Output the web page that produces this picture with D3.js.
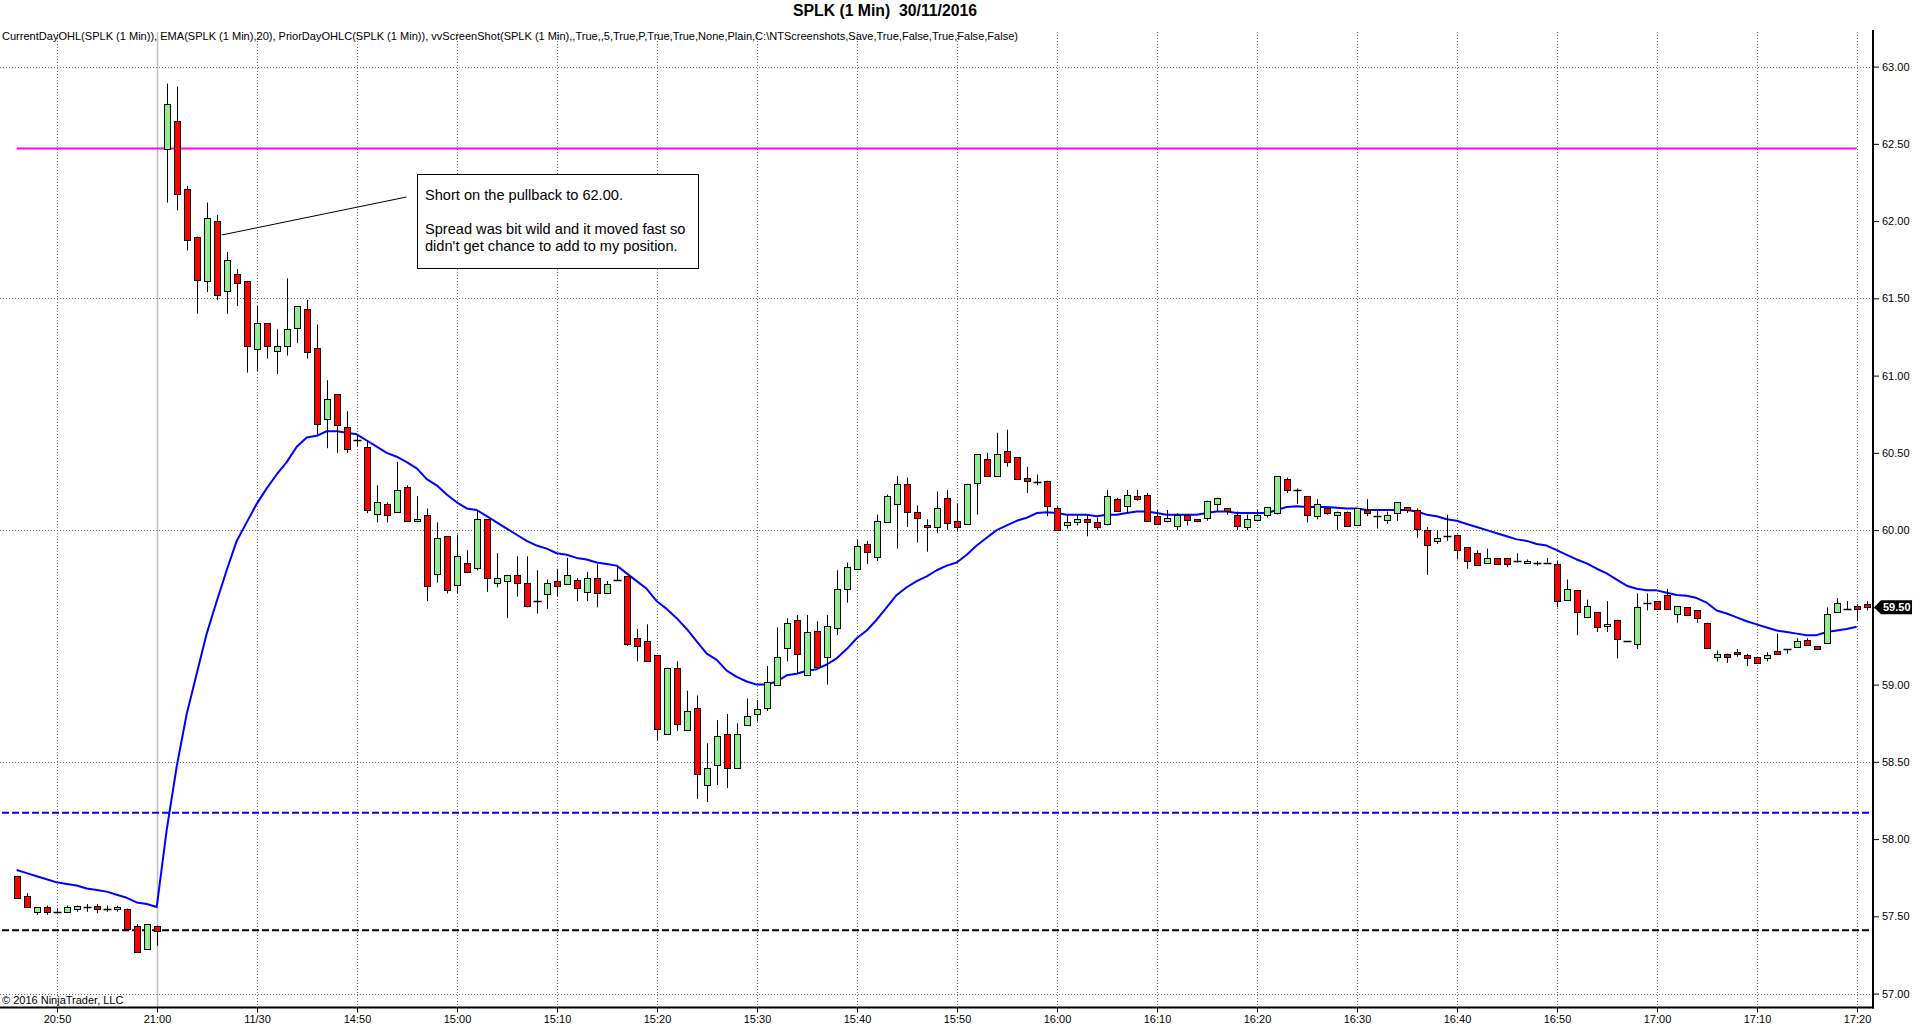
<!DOCTYPE html>
<html><head><meta charset="utf-8">
<script src="https://cdn.jsdelivr.net/npm/d3@7/dist/d3.min.js"></script>
<style>
html,body{margin:0;padding:0;background:#fff;}
svg{display:block;font-family:"Liberation Sans",Arial,sans-serif;}
</style></head>
<body>
<svg id="chart" width="1920" height="1034"></svg>
<script>
// ---------- DATA ----------
const times = ["20:46","20:47","20:48","20:49","20:50","20:51","20:52","20:53","20:54","20:55","20:56","20:57","20:58","20:59","21:00",
"14:31","14:32","14:33","14:34","14:35","14:36","14:37","14:38","14:39","14:40","14:41","14:42","14:43","14:44","14:45","14:46","14:47","14:48","14:49","14:50",
"14:51","14:52","14:53","14:54","14:55","14:56","14:57","14:58","14:59","15:00","15:01","15:02","15:03","15:04","15:05","15:06","15:07","15:08","15:09","15:10",
"15:11","15:12","15:13","15:14","15:15","15:16","15:17","15:18","15:19","15:20","15:21","15:22","15:23","15:24","15:25","15:26","15:27","15:28","15:29","15:30",
"15:31","15:32","15:33","15:34","15:35","15:36","15:37","15:38","15:39","15:40","15:41","15:42","15:43","15:44","15:45","15:46","15:47","15:48","15:49","15:50",
"15:51","15:52","15:53","15:54","15:55","15:56","15:57","15:58","15:59","16:00","16:01","16:02","16:03","16:04","16:05","16:06","16:07","16:08","16:09","16:10",
"16:11","16:12","16:13","16:14","16:15","16:16","16:17","16:18","16:19","16:20","16:21","16:22","16:23","16:24","16:25","16:26","16:27","16:28","16:29","16:30",
"16:31","16:32","16:33","16:34","16:35","16:36","16:37","16:38","16:39","16:40","16:41","16:42","16:43","16:44","16:45","16:46","16:47","16:48","16:49","16:50",
"16:51","16:52","16:53","16:54","16:55","16:56","16:57","16:58","16:59","17:00","17:01","17:02","17:03","17:04","17:05","17:06","17:07","17:08","17:09","17:10",
"17:11","17:12","17:13","17:14","17:15","17:16","17:17","17:18","17:19","17:20","17:21"];

const opens = [57.76,57.63,57.53,57.56,57.53,57.53,57.55,57.56,57.57,57.55,57.55,57.55,57.44,57.29,57.44,
62.47,62.65,62.21,61.90,61.61,62.00,61.55,61.66,61.61,61.17,61.34,61.16,61.19,61.31,61.43,61.18,60.72,60.88,60.67,60.58,
60.54,60.10,60.17,60.12,60.28,60.06,60.10,59.72,59.96,59.64,59.79,59.75,60.07,59.66,59.67,59.71,59.66,59.54,59.59,59.67,
59.65,59.68,59.60,59.69,59.59,59.68,59.70,59.30,59.28,59.19,58.68,59.11,58.71,58.85,58.35,58.48,58.68,58.46,58.74,58.81,
58.85,59.00,59.24,59.42,59.06,59.35,59.18,59.37,59.62,59.75,59.91,59.83,60.05,60.17,60.30,60.12,60.03,60.02,60.21,60.06,
60.04,60.30,60.46,60.35,60.51,60.47,60.34,60.31,60.32,60.14,60.03,60.05,60.07,60.05,60.04,60.20,60.16,60.22,60.23,60.09,
60.06,60.03,60.10,60.07,60.08,60.17,60.14,60.10,60.02,60.07,60.10,60.11,60.33,60.26,60.22,60.09,60.14,60.10,60.12,60.03,
60.13,60.09,60.07,60.11,60.15,60.13,60.00,59.93,59.96,59.97,59.89,59.85,59.79,59.82,59.82,59.80,59.79,59.79,59.79,59.78,
59.55,59.61,59.44,59.47,59.38,59.42,59.28,59.26,59.53,59.54,59.58,59.46,59.50,59.48,59.40,59.18,59.20,59.21,59.19,59.18,
59.17,59.22,59.23,59.24,59.29,59.25,59.27,59.47,59.49,59.51,59.52];

const highs = [57.76,57.65,57.56,57.57,57.55,57.57,57.57,57.58,57.58,57.57,57.57,57.55,57.45,57.45,57.44,
62.89,62.87,62.23,61.90,62.12,62.04,61.80,61.69,61.61,61.45,61.34,61.30,61.63,61.45,61.49,61.33,60.97,60.88,60.77,60.62,
60.58,60.29,60.18,60.44,60.29,60.22,60.14,60.05,59.96,59.97,59.87,60.13,60.07,59.85,59.71,59.83,59.83,59.74,59.68,59.75,
59.82,59.69,59.73,59.78,59.67,59.76,59.70,59.36,59.39,59.19,59.11,59.15,58.96,58.93,58.62,58.77,58.81,58.75,58.91,58.90,
59.12,59.37,59.43,59.45,59.45,59.41,59.45,59.74,59.79,59.94,59.93,60.10,60.23,60.35,60.34,60.16,60.07,60.25,60.26,60.17,
60.30,60.49,60.50,60.63,60.65,60.47,60.41,60.36,60.32,60.16,60.10,60.10,60.10,60.08,60.26,60.21,60.26,60.26,60.24,60.13,
60.13,60.11,60.10,60.07,60.19,60.21,60.14,60.12,60.10,60.13,60.15,60.35,60.34,60.27,60.22,60.20,60.14,60.12,60.12,60.14,
60.20,60.13,60.12,60.18,60.15,60.14,60.02,60.00,60.10,59.97,59.89,59.87,59.88,59.82,59.82,59.85,59.81,59.80,59.82,59.80,
59.68,59.61,59.55,59.47,59.54,59.42,59.28,59.59,59.59,59.54,59.62,59.51,59.50,59.48,59.40,59.22,59.20,59.23,59.20,59.18,
59.21,59.33,59.23,59.30,59.30,59.25,59.50,59.56,59.54,59.52,59.54];

const lows = [57.62,57.56,57.51,57.51,57.52,57.53,57.53,57.53,57.52,57.53,57.53,57.42,57.27,57.29,57.31,
62.12,62.07,61.81,61.40,61.54,61.49,61.40,61.45,61.02,61.03,61.11,61.01,61.13,61.21,61.11,60.62,60.53,60.50,60.50,60.54,
60.11,60.05,60.05,60.12,60.06,60.05,59.54,59.66,59.59,59.59,59.72,59.74,59.60,59.63,59.43,59.57,59.50,59.46,59.49,59.57,
59.65,59.54,59.54,59.50,59.59,59.67,59.25,59.15,59.15,58.64,58.68,58.70,58.71,58.26,58.24,58.35,58.33,58.46,58.74,58.76,
58.83,59.00,59.15,59.07,59.06,59.12,59.00,59.32,59.53,59.75,59.78,59.80,60.05,59.88,60.02,59.92,59.86,59.98,60.00,59.99,
60.04,60.10,60.35,60.35,60.41,60.33,60.24,60.29,60.09,60.00,60.01,60.03,59.96,60.00,60.03,60.12,60.11,60.19,60.06,60.04,
60.05,60.00,60.03,60.05,60.06,60.12,60.10,60.00,60.00,60.07,60.08,60.10,60.24,60.17,60.05,60.07,60.10,60.00,60.02,60.03,
60.09,60.01,60.04,60.06,60.11,59.95,59.71,59.91,59.93,59.81,59.75,59.77,59.78,59.78,59.76,59.79,59.78,59.77,59.79,59.50,
59.55,59.32,59.43,59.34,59.34,59.17,59.28,59.23,59.48,59.49,59.49,59.40,59.45,59.40,59.24,59.15,59.14,59.18,59.12,59.14,
59.15,59.20,59.20,59.24,59.26,59.23,59.27,59.47,59.49,59.41,59.48];

const closes = [57.62,57.56,57.56,57.53,57.53,57.56,57.57,57.56,57.55,57.55,57.56,57.42,57.27,57.45,57.41,
62.76,62.18,61.88,61.62,62.02,61.52,61.75,61.60,61.19,61.34,61.19,61.19,61.30,61.45,61.15,60.69,60.85,60.68,60.53,60.58,
60.13,60.18,60.10,60.26,60.06,60.07,59.64,59.95,59.61,59.83,59.73,60.07,59.69,59.69,59.71,59.66,59.51,59.54,59.66,59.64,
59.71,59.63,59.69,59.59,59.65,59.68,59.26,59.25,59.15,58.71,59.11,58.75,58.83,58.42,58.46,58.67,58.46,58.68,58.80,58.84,
59.02,59.18,59.40,59.20,59.34,59.12,59.38,59.62,59.76,59.90,59.86,60.06,60.22,60.30,60.12,60.08,60.02,60.14,60.05,60.02,
60.30,60.49,60.35,60.49,60.44,60.33,60.32,60.31,60.16,60.00,60.05,60.07,60.05,60.02,60.22,60.12,60.23,60.20,60.06,60.04,
60.08,60.10,60.07,60.06,60.19,60.21,60.12,60.03,60.07,60.10,60.15,60.35,60.26,60.26,60.10,60.17,60.11,60.12,60.03,60.14,
60.11,60.09,60.10,60.18,60.13,60.01,59.90,59.95,59.96,59.87,59.80,59.77,59.82,59.78,59.78,59.80,59.80,59.79,59.79,59.54,
59.62,59.47,59.51,59.37,59.39,59.30,59.28,59.50,59.53,59.49,59.49,59.51,59.45,59.43,59.24,59.20,59.18,59.20,59.17,59.14,
59.19,59.20,59.23,59.28,59.26,59.23,59.46,59.53,59.49,59.49,59.50];

// EMA(20) line as drawn (ends on the last completed bar, 17:20)
const emaValues = [57.80,57.78,57.76,57.74,57.72,57.71,57.70,57.68,57.67,57.66,57.64,57.62,57.59,57.58,57.56,
58.06,58.47,58.81,59.07,59.33,59.54,59.74,59.93,60.05,60.17,60.27,60.36,60.44,60.54,60.60,60.61,60.64,60.64,60.63,60.62,
60.58,60.54,60.50,60.475,60.44,60.40,60.33,60.29,60.23,60.18,60.14,60.13,60.09,60.05,60.01,59.97,59.93,59.90,59.88,59.85,
59.84,59.82,59.81,59.79,59.78,59.77,59.72,59.67,59.62,59.54,59.49,59.43,59.36,59.28,59.20,59.16,59.09,59.05,59.02,59.00,
59.00,59.02,59.06,59.07,59.09,59.10,59.13,59.17,59.23,59.30,59.35,59.42,59.50,59.58,59.63,59.67,59.70,59.74,59.77,59.79,
59.84,59.90,59.95,60.00,60.03,60.06,60.08,60.11,60.115,60.11,60.10,60.10,60.10,60.09,60.10,60.10,60.11,60.12,60.12,60.11,
60.10,60.10,60.10,60.10,60.11,60.12,60.12,60.11,60.11,60.11,60.11,60.13,60.15,60.155,60.15,60.15,60.15,60.145,60.14,60.14,
60.13,60.13,60.13,60.13,60.13,60.12,60.10,60.09,60.07,60.06,60.04,60.02,60.00,59.98,59.96,59.94,59.93,59.91,59.90,59.87,
59.84,59.81,59.785,59.75,59.72,59.68,59.64,59.62,59.61,59.61,59.595,59.58,59.575,59.56,59.53,59.48,59.46,59.435,59.41,59.39,
59.37,59.35,59.34,59.33,59.32,59.32,59.34,59.35,59.36,59.375,null];

// horizontal indicator levels
const currentDayOpen = 62.47;   // magenta
const priorDayHigh = 58.17;     // blue dashed
const priorDayClose = 57.41;    // black dashed
const lastPrice = 59.50;

// axis ticks
const priceTicks = [57.0,57.5,58.0,58.5,59.0,59.5,60.0,60.5,61.0,61.5,62.0,62.5,63.0];
const priceGrid = [57.0,58.5,60.0,61.5,63.0];
const timeTicks = ["20:50","21:00","14:40","14:50","15:00","15:10","15:20","15:30","15:40","15:50","16:00","16:10","16:20","16:30","16:40","16:50","17:00","17:10","17:20"];
const timeTickLabels = {"14:40":"11/30"};
const sessionBreak = "21:00";

const titleText = "SPLK (1 Min)\u00A0 30/11/2016";
const indicatorText = "CurrentDayOHL(SPLK (1 Min)), EMA(SPLK (1 Min),20), PriorDayOHLC(SPLK (1 Min)), vvScreenShot(SPLK (1 Min),,True,,5,True,P,True,True,None,Plain,C:\\NTScreenshots,Save,True,False,True,False,False)";
const copyrightText = "\u00A9 2016 NinjaTrader, LLC";
const noteLines = ["Short on the pullback to 62.00.", "", "Spread was bit wild and it moved fast so", "didn't get chance to add to my position."];
const noteAnchor = {time:"14:36", price:61.91};

// ---------- DRAW ----------
const svg = d3.select("#chart");
const plotTop = 32, plotBottom = 1007.5, axisX = 1873;

const bars = times.map((t,i)=>({t, o:opens[i], h:highs[i], l:lows[i], c:closes[i], e:emaValues[i]}));

const x = d3.scalePoint().domain(times).range([16.7, 1866.7]);
const y = d3.scaleLinear().domain([57, 63]).range([993.6, 66.6]);
const px = t => Math.round(x(t)) + 0.5;

// grid
const grid = svg.append("g");
grid.selectAll("line.hg").data(priceGrid).join("line")
  .attr("x1",0).attr("x2",axisX).attr("y1",d=>Math.round(y(d))+0.5).attr("y2",d=>Math.round(y(d))+0.5)
  .attr("stroke","#6e6e6e").attr("stroke-width",1).attr("stroke-dasharray","1,2");
grid.selectAll("line.vg").data(timeTicks.filter(t=>t!==sessionBreak)).join("line")
  .attr("x1",d=>px(d)).attr("x2",d=>px(d)).attr("y1",plotTop).attr("y2",plotBottom)
  .attr("stroke","#6e6e6e").attr("stroke-width",1).attr("stroke-dasharray","1,2");
grid.append("line").attr("x1",px(sessionBreak)).attr("x2",px(sessionBreak)).attr("y1",plotTop).attr("y2",plotBottom)
  .attr("stroke","#c0c0c0").attr("stroke-width",1.5);

// indicator text
svg.append("text").attr("x",2).attr("y",40).attr("font-size",11).attr("fill","#000")
  .attr("textLength",1016).attr("lengthAdjust","spacingAndGlyphs").text(indicatorText);

// title
svg.append("text").attr("x",885).attr("y",16).attr("text-anchor","middle").attr("font-size",16)
  .attr("font-weight","bold").attr("textLength",184).attr("lengthAdjust","spacingAndGlyphs").text(titleText);

// level lines
svg.append("line").attr("x1",2).attr("x2",1871).attr("y1",y(priorDayHigh)).attr("y2",y(priorDayHigh))
  .attr("stroke","#0000ff").attr("stroke-width",2).attr("stroke-dasharray","7,3");
svg.append("line").attr("x1",2).attr("x2",1871).attr("y1",y(priorDayClose)).attr("y2",y(priorDayClose))
  .attr("stroke","#000").attr("stroke-width",2).attr("stroke-dasharray","7,3");
svg.append("line").attr("x1",x(times[0])).attr("x2",x("17:20")).attr("y1",y(currentDayOpen)).attr("y2",y(currentDayOpen))
  .attr("stroke","#ff00ff").attr("stroke-width",2);

// EMA
const emaLine = d3.line().defined(d=>d.e!=null).x(d=>x(d.t)).y(d=>y(d.e));
svg.append("path").datum(bars).attr("d",emaLine).attr("fill","none").attr("stroke","#0000ff").attr("stroke-width",2).attr("stroke-linejoin","round");

// candles
const cg = svg.append("g");
const cand = cg.selectAll("g").data(bars).join("g");
cand.append("line").attr("x1",d=>px(d.t)).attr("x2",d=>px(d.t))
  .attr("y1",d=>y(d.h)).attr("y2",d=>y(d.l)).attr("stroke","#000").attr("stroke-width",1);
cand.filter(d=>Math.abs(d.c-d.o)>=0.005).append("rect")
  .attr("x",d=>px(d.t)-3).attr("width",6)
  .attr("y",d=>Math.round(y(Math.max(d.o,d.c)))+0.5)
  .attr("height",d=>Math.max(2,Math.round(y(Math.min(d.o,d.c))-y(Math.max(d.o,d.c)))))
  .attr("fill",d=>d.c>d.o?"#90ee90":"#ff0000").attr("stroke","#000").attr("stroke-width",1);
cand.filter(d=>Math.abs(d.c-d.o)<0.005).append("line")
  .attr("x1",d=>px(d.t)-4).attr("x2",d=>px(d.t)+4)
  .attr("y1",d=>Math.round(y(d.c))+0.5).attr("y2",d=>Math.round(y(d.c))+0.5)
  .attr("stroke","#000").attr("stroke-width",1.5);

// annotation
const box = svg.append("g");
box.append("line").attr("x1",x(noteAnchor.time)+5).attr("y1",y(noteAnchor.price))
  .attr("x2",406.5).attr("y2",197).attr("stroke","#000").attr("stroke-width",1);
box.append("rect").attr("x",417.5).attr("y",174.5).attr("width",281).attr("height",94)
  .attr("fill","#fff").attr("stroke","#000").attr("stroke-width",1);
const ny = [200, 217, 234, 251];
noteLines.forEach((s,i)=>{ if(s) box.append("text").attr("x",425).attr("y",ny[i]).attr("font-size",14.6).text(s); });

// axes
const yAxis = d3.axisRight(y).tickValues(priceTicks).tickFormat(d3.format(".2f")).tickSize(6).tickPadding(3);
const ya = svg.append("g").attr("transform",`translate(${axisX},0)`).call(yAxis);
ya.select(".domain").remove();
ya.selectAll("text").attr("font-size",11).attr("font-family","Liberation Sans, Arial, sans-serif").attr("fill","#000");
svg.append("line").attr("x1",axisX).attr("x2",axisX).attr("y1",plotTop-2).attr("y2",plotBottom+1).attr("stroke","#000").attr("stroke-width",2);

const xAxis = d3.axisBottom(x).tickValues(timeTicks).tickFormat(d=>timeTickLabels[d]||d).tickSize(5).tickPadding(3);
const xa = svg.append("g").attr("transform",`translate(0,${plotBottom})`).call(xAxis);
xa.select(".domain").remove();
xa.selectAll(".tick").attr("transform",d=>`translate(${px(d)},0)`);
xa.selectAll("text").attr("font-size",11).attr("font-family","Liberation Sans, Arial, sans-serif").attr("fill","#000");
svg.append("line").attr("x1",0).attr("x2",axisX+1).attr("y1",plotBottom).attr("y2",plotBottom).attr("stroke","#000").attr("stroke-width",2);

// copyright
svg.append("text").attr("x",2).attr("y",1004).attr("font-size",11).text(copyrightText);

// last price marker
const ly = y(lastPrice);
svg.append("path").attr("d",`M${axisX+1},${ly} L${axisX+8},${ly-7} L${axisX+39},${ly-7} L${axisX+39},${ly+7} L${axisX+8},${ly+7} Z`).attr("fill","#000");
svg.append("text").attr("x",axisX+10).attr("y",ly+4).attr("font-size",11).attr("font-weight","bold").attr("fill","#fff").text(d3.format(".2f")(lastPrice));
</script>
</body></html>
